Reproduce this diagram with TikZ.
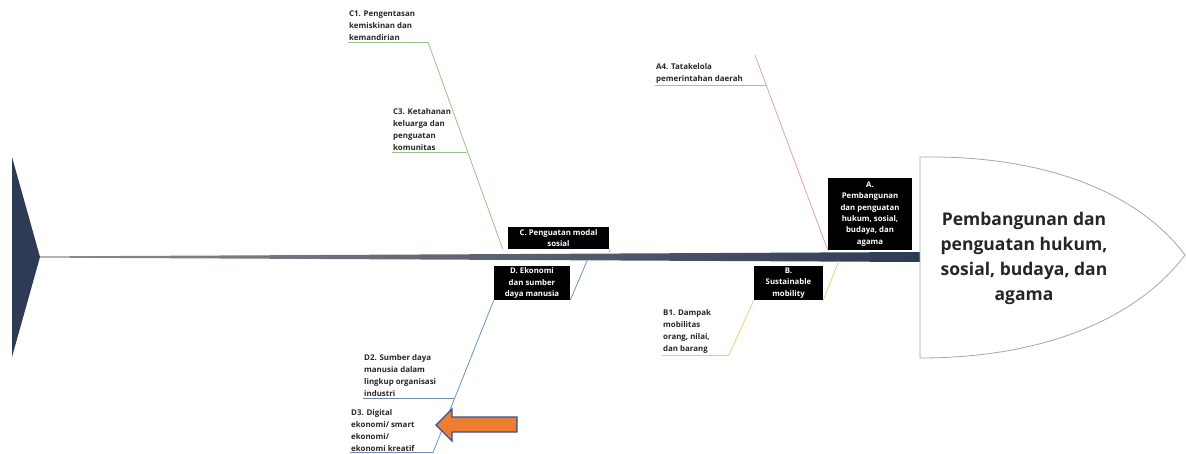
\documentclass[tikz,border=0pt]{standalone}
\usepackage{fontspec}
\setmainfont{Open Sans}
\usepackage{xcolor}
\usepackage{tikz}
\usetikzlibrary{positioning}
\definecolor{spinenavy}{HTML}{2E3B55}
\definecolor{bonered}{HTML}{E3A3A0}
\definecolor{bonegreen}{HTML}{9DBF8C}
\definecolor{boneblue}{HTML}{6F8FBF}
\definecolor{boneyellow}{HTML}{E6D36E}
\definecolor{arroworange}{HTML}{ED7D31}
\definecolor{arrowblue}{HTML}{2F5597}
\tikzset{
  cause box/.style={fill=black, text=white, inner sep=1pt, align=center,
    font=\bfseries\fontsize{7.8}{11.4}\selectfont},
  sub label/.style={anchor=south west, inner sep=1pt, align=left, text=black!85,
    font=\bfseries\fontsize{7.9}{12}\selectfont},
  bone/.style={line width=0.8pt},
}

\begin{document}
\begin{tikzpicture}[x=1pt,y=-1pt]
\useasboundingbox (0,0) rectangle (1186,454);
\fill[spinenavy] (12,157) -- (40,257) -- (12,357) -- cycle;
\shade[left color=black!45, right color=spinenavy] (40,256.4) -- (920,252) -- (920,262) -- (40,257.6) -- cycle;
\draw[gray!70, fill=white, line width=0.8pt] (920,157) .. controls (1050,155) and (1140,195) .. (1185,255)
  .. controls (1140,315) and (1050,358) .. (920,358) -- cycle;
\node[align=center, text=black!85, font=\bfseries\fontsize{17.5}{25}\selectfont] (head) at (1024,258)
  {Pembangunan dan\\penguatan hukum,\\sosial, budaya, dan\\agama};

\node[cause box, minimum width=84pt, minimum height=72pt] (boxA) at (870,214)
  {A.\\Pembangunan\\dan penguatan\\hukum, sosial,\\budaya, dan\\agama};
\node[cause box, minimum width=101pt, minimum height=22pt] (boxC) at (558.5,238)
  {C. Penguatan modal\\sosial};
\node[cause box, minimum width=76pt, minimum height=34pt] (boxD) at (532,283)
  {D. Ekonomi\\dan sumber\\daya manusia};
\node[cause box, minimum width=69pt, minimum height=34pt] (boxB) at (788.5,283)
  {B.\\Sustainable\\mobility};

\node[sub label] (a4) at (655,85) {A4. Tatakelola\\pemerintahan daerah};
\node[sub label] (c1) at (348,42) {C1. Pengentasan\\kemiskinan dan\\kemandirian};
\node[sub label] (c3) at (392,152) {C3. Ketahanan\\keluarga dan\\penguatan\\komunitas};
\node[sub label] (b1) at (662,355) {B1. Dampak\\mobilitas\\orang, nilai,\\dan barang};
\node[sub label] (d2) at (363,398) {D2. Sumber daya\\manusia dalam\\lingkup organisasi\\industri};
\node[sub label] (d3) at (350,452.5) {D3. Digital\\ekonomi/ smart\\ekonomi/\\ekonomi kreatif};

\coordinate (a top) at (755,55);
\coordinate (a4 end) at (766,85);
\coordinate (c top) at (428,42);
\coordinate (c3 end) at (467,152);
\coordinate (d root) at (587,261);
\coordinate (d2 end) at (455,398);
\coordinate (d end) at (433,452.5);
\coordinate (b root) at (839,261);
\coordinate (b end) at (729,355);

\draw[bone, bonered] (boxA.south west) -- (a top);
\draw[bone, bonered] (a4.south west) -- (a4 end);
\draw[bone, bonegreen] ([xshift=-5pt]boxC.south west) -- (c top);
\draw[bone, bonegreen] (c1.south west) -- (c top);
\draw[bone, bonegreen] (c3.south west) -- (c3 end);
\draw[bone, gray!50] (boxC.south east) -- ++(1,4);
\draw[bone, boneblue] (d root) -- (boxD.south east);
\draw[bone, boneblue] (boxD.south west) -- (d end);
\draw[bone, boneblue!70!gray] (d2.south west) -- (d2 end);
\draw[bone, boneblue!70!gray] (d3.south west) -- (d end);
\draw[bone, boneyellow] (b root) -- (boxB.south east);
\draw[bone, boneyellow] (boxB.south west) -- (b end);
\draw[bone, boneyellow] (b1.south west) -- (b end);

\draw[arrowblue, fill=arroworange, line width=1.4pt, line join=miter]
  (436,425) -- (452,409) -- (452,417) -- (517,417) -- (517,432) -- (452,432) -- (452,441) -- cycle;
\end{tikzpicture}
\end{document}
